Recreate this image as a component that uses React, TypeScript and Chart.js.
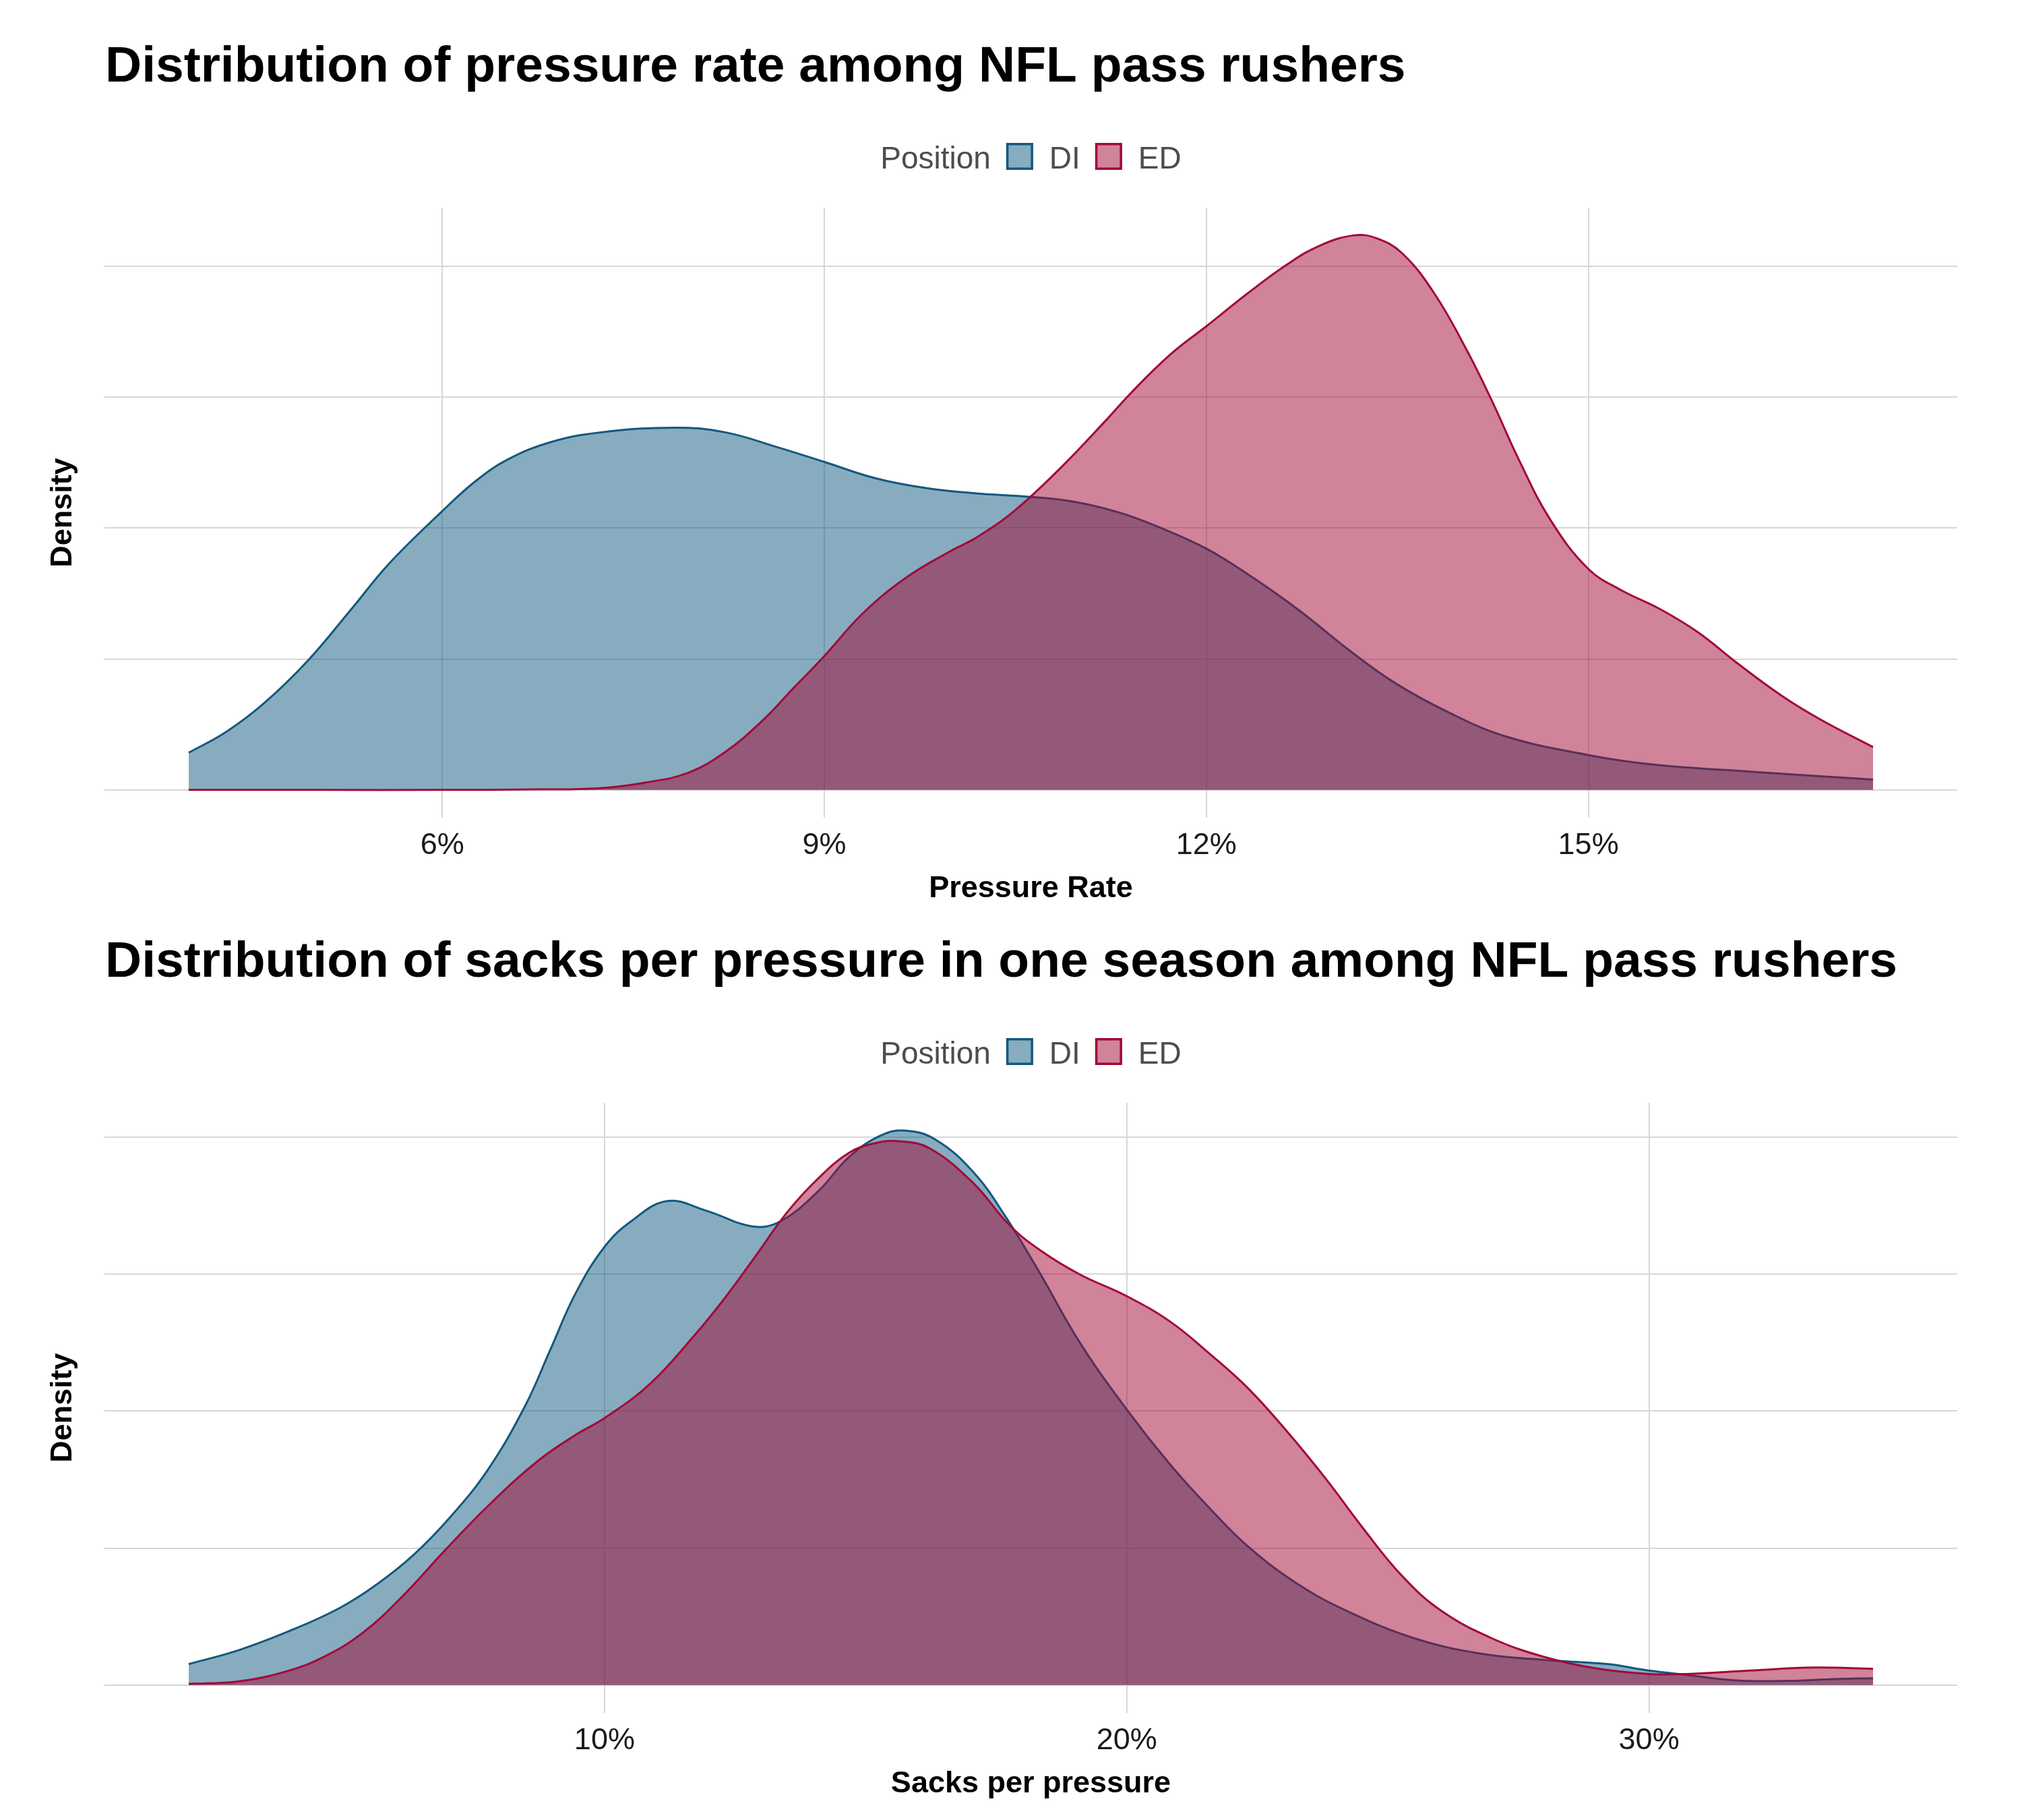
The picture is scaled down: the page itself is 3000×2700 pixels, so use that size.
import React, { useEffect, useRef } from 'react';
import { Chart, registerables } from 'chart.js';

Chart.register(...registerables);

const FONT = "'Liberation Sans', Arial, Helvetica, sans-serif";

// ---------- colours ----------
const DI_LINE = '#11597F';
const DI_FILL = 'rgba(17, 89, 127, 0.5)';
const ED_LINE = '#A3083A';
const ED_FILL = 'rgba(161, 7, 51, 0.5)';
const GRID = '#d6d6d6';

// ---------- shared text ----------
const legendTitle = 'Position';
const positions = ['DI', 'ED'];
const yAxisTitle = 'Density';
const densityGrid = [0, 1, 2, 3, 4];

// ---------- panel 1: pressure rate ----------
const pressureTitle = 'Distribution of pressure rate among NFL pass rushers';
const pressureAxisTitle = 'Pressure Rate';
const pressureTicks = [6, 9, 12, 15];

const pressureDI_x = [4.008, 4.307, 4.6, 4.943, 5.286, 5.579, 6.0, 6.264, 6.509, 6.85, 7.243, 7.83, 8.222, 8.613, 9.0, 9.396, 9.788, 10.18, 10.62, 10.958, 11.312, 11.616, 12.0, 12.374, 12.729, 13.133, 13.487, 13.892, 14.347, 15.0, 15.51, 16.27, 17.236];
const pressureDI_y = [0.284, 0.446, 0.662, 0.986, 1.381, 1.725, 2.129, 2.36, 2.52, 2.655, 2.73, 2.766, 2.73, 2.622, 2.504, 2.381, 2.306, 2.265, 2.237, 2.201, 2.119, 2.011, 1.842, 1.615, 1.371, 1.058, 0.813, 0.597, 0.41, 0.266, 0.194, 0.14, 0.079];

const pressureED_x = [4.008, 5.0, 6.0, 6.754, 7.243, 7.586, 7.928, 8.222, 8.515, 8.76, 9.0, 9.299, 9.641, 9.984, 10.2, 10.5, 10.857, 11.21, 11.413, 11.717, 12.0, 12.324, 12.627, 12.88, 13.158, 13.336, 13.538, 13.79, 14.044, 14.246, 14.449, 14.7, 15.0, 15.258, 15.562, 15.865, 16.169, 16.523, 16.826, 17.236];
const pressureED_y = [0, 0, 0, 0.004, 0.014, 0.055, 0.13, 0.29, 0.53, 0.78, 1.022, 1.345, 1.62, 1.82, 1.93, 2.137, 2.46, 2.82, 3.036, 3.324, 3.54, 3.791, 4.007, 4.151, 4.234, 4.212, 4.097, 3.791, 3.36, 2.964, 2.532, 2.065, 1.687, 1.525, 1.381, 1.201, 0.968, 0.716, 0.536, 0.327];

// ---------- panel 2: sacks per pressure ----------
const sacksTitle = 'Distribution of sacks per pressure in one season among NFL pass rushers';
const sacksAxisTitle = 'Sacks per pressure';
const sacksTicks = [10, 20, 30];

const sacksDI_x = [2.038, 3.004, 3.957, 4.911, 5.626, 6.341, 7.056, 7.771, 8.486, 8.963, 9.44, 10.0, 10.51, 11.2, 11.94, 12.84, 13.37, 14.09, 14.68, 15.28, 15.76, 16.35, 17.07, 17.66, 18.3, 19.1, 20.0, 20.84, 21.58, 22.32, 23.3, 24.29, 25.52, 26.76, 27.99, 29.22, 30.0, 30.7, 31.69, 32.68, 33.54, 34.29];
const sacksDI_y = [0.153, 0.256, 0.393, 0.559, 0.731, 0.949, 1.23, 1.574, 2.042, 2.448, 2.854, 3.198, 3.385, 3.532, 3.463, 3.347, 3.385, 3.603, 3.853, 4.009, 4.047, 3.978, 3.74, 3.43, 3.03, 2.5, 2.011, 1.605, 1.293, 1.012, 0.731, 0.528, 0.34, 0.231, 0.184, 0.153, 0.106, 0.075, 0.034, 0.031, 0.044, 0.05];

const sacksED_x = [2.038, 3.004, 3.957, 4.672, 5.387, 6.103, 6.937, 7.771, 8.725, 9.44, 10.0, 10.87, 11.7, 12.3, 12.9, 13.49, 14.09, 14.68, 15.16, 15.64, 16.23, 17.07, 17.76, 18.37, 19.11, 20.0, 20.84, 21.58, 22.32, 23.06, 23.8, 24.54, 25.28, 26.02, 27.0, 27.99, 28.98, 30.0, 30.7, 31.94, 33.17, 34.29];
const sacksED_y = [0.009, 0.028, 0.106, 0.215, 0.387, 0.637, 0.98, 1.308, 1.636, 1.824, 1.948, 2.198, 2.542, 2.823, 3.135, 3.447, 3.697, 3.884, 3.953, 3.969, 3.916, 3.66, 3.354, 3.166, 2.995, 2.838, 2.65, 2.42, 2.167, 1.855, 1.511, 1.137, 0.793, 0.543, 0.34, 0.206, 0.122, 0.081, 0.081, 0.106, 0.128, 0.119];

type PanelProps = {
  title: string;
  xTitle: string;
  ticks: number[];
  diX: number[];
  diY: number[];
  edX: number[];
  edY: number[];
  top: number;
};

function makeHeaderPlugin(title: string) {
  return {
    id: 'headerLegend',
    afterDraw(chart: any) {
      const ctx = chart.ctx as CanvasRenderingContext2D;
      const area = chart.chartArea;
      ctx.save();
      // title
      ctx.font = `bold 75px ${FONT}`;
      ctx.fillStyle = '#000000';
      ctx.textBaseline = 'alphabetic';
      ctx.textAlign = 'left';
      ctx.fillText(title, area.left + 1, 121);

      // legend
      ctx.font = `46px ${FONT}`;
      const box = 40;
      const gapAfterTitle = 23;
      const gapBoxText = 24;
      const gapItems = 22;
      const wTitle = ctx.measureText(legendTitle).width;
      const wLabels = positions.map((p) => ctx.measureText(p).width);
      let total = wTitle;
      wLabels.forEach((w) => {
        total += gapAfterTitle + box + gapBoxText + w;
      });
      total += gapItems - gapAfterTitle;
      const cx = (area.left + area.right) / 2;
      let x = cx - total / 2;
      const baseline = 250;
      const boxTop = 212;
      ctx.fillStyle = '#4d4d4d';
      ctx.fillText(legendTitle, x, baseline);
      x += wTitle;
      const lines = [DI_LINE, ED_LINE];
      const fills = [DI_FILL, ED_FILL];
      positions.forEach((p, i) => {
        x += i === 0 ? gapAfterTitle : gapItems;
        ctx.fillStyle = '#ffffff';
        ctx.fillRect(x, boxTop, box, box);
        ctx.fillStyle = fills[i];
        ctx.fillRect(x, boxTop, box, box);
        ctx.strokeStyle = lines[i];
        ctx.lineWidth = 3.5;
        ctx.strokeRect(x + 1.75, boxTop + 1.75, box - 3.5, box - 3.5);
        x += box + gapBoxText;
        ctx.fillStyle = '#4d4d4d';
        ctx.fillText(p, x, baseline);
        x += wLabels[i];
      });
      ctx.restore();
    },
  };
}

function Panel({ title, xTitle, ticks, diX, diY, edX, edY, top }: PanelProps) {
  const ref = useRef<HTMLCanvasElement | null>(null);

  useEffect(() => {
    if (!ref.current) return;
    const allX = [...diX, ...edX];
    const xLo = Math.min(...allX);
    const xHi = Math.max(...allX);
    const xPad = 0.05 * (xHi - xLo);
    const yMaxData = Math.max(...diY, ...edY);

    const chart = new Chart(ref.current, {
      type: 'line',
      data: {
        datasets: [
          {
            label: positions[0],
            data: diX.map((x, i) => ({ x, y: diY[i] })),
            borderColor: DI_LINE,
            backgroundColor: DI_FILL,
            fill: 'origin',
            borderWidth: 3,
            pointRadius: 0,
            tension: 0.4,
            order: 2,
          },
          {
            label: positions[1],
            data: edX.map((x, i) => ({ x, y: edY[i] })),
            borderColor: ED_LINE,
            backgroundColor: ED_FILL,
            fill: 'origin',
            borderWidth: 3,
            pointRadius: 0,
            tension: 0.4,
            order: 1,
          },
        ],
      },
      options: {
        responsive: false,
        animation: false,
        devicePixelRatio: 1,
        layout: { padding: { top: 308, right: 96, bottom: 0, left: 0 } },
        plugins: {
          legend: { display: false },
          tooltip: { enabled: false },
          title: { display: false },
        },
        scales: {
          x: {
            type: 'linear',
            min: xLo - xPad,
            max: xHi + xPad,
            afterBuildTicks: (s: any) => {
              s.ticks = ticks.map((v) => ({ value: v }));
            },
            ticks: {
              callback: (v: any) => `${v}%`,
              font: { family: FONT, size: 45 },
              color: '#1a1a1a',
              padding: 15,
              maxRotation: 0,
              autoSkip: false,
            },
            grid: { color: GRID, lineWidth: 2, drawTicks: false },
            border: { display: false },
            title: {
              display: true,
              text: xTitle,
              font: { family: FONT, size: 45, weight: 'bold' },
              color: '#000000',
              padding: { top: 0, bottom: 4 },
            },
            afterFit: (s: any) => {
              s.height = 137;
            },
          },
          y: {
            type: 'linear',
            min: -0.05 * yMaxData,
            max: 1.05 * yMaxData,
            afterBuildTicks: (s: any) => {
              s.ticks = densityGrid.map((v) => ({ value: v }));
            },
            ticks: { display: false },
            grid: { color: GRID, lineWidth: 2, drawTicks: false },
            border: { display: false },
            title: {
              display: true,
              text: yAxisTitle,
              font: { family: FONT, size: 45, weight: 'bold' },
              color: '#000000',
              padding: { top: 67, bottom: 0 },
            },
            afterFit: (s: any) => {
              s.width = 155;
            },
          },
        },
      } as any,
      plugins: [makeHeaderPlugin(title)],
    });
    return () => chart.destroy();
  }, []);

  return (
    <canvas
      ref={ref}
      width={3000}
      height={1350}
      style={{ position: 'absolute', left: 0, top, width: 3000, height: 1350, display: 'block' }}
    />
  );
}

export default function App() {
  useEffect(() => {
    document.body.style.margin = '0';
    document.body.style.background = '#ffffff';
  }, []);
  return (
    <div style={{ position: 'relative', width: 3000, height: 2700, background: '#ffffff' }}>
      <Panel
        title={pressureTitle}
        xTitle={pressureAxisTitle}
        ticks={pressureTicks}
        diX={pressureDI_x}
        diY={pressureDI_y}
        edX={pressureED_x}
        edY={pressureED_y}
        top={0}
      />
      <Panel
        title={sacksTitle}
        xTitle={sacksAxisTitle}
        ticks={sacksTicks}
        diX={sacksDI_x}
        diY={sacksDI_y}
        edX={sacksED_x}
        edY={sacksED_y}
        top={1328}
      />
    </div>
  );
}
